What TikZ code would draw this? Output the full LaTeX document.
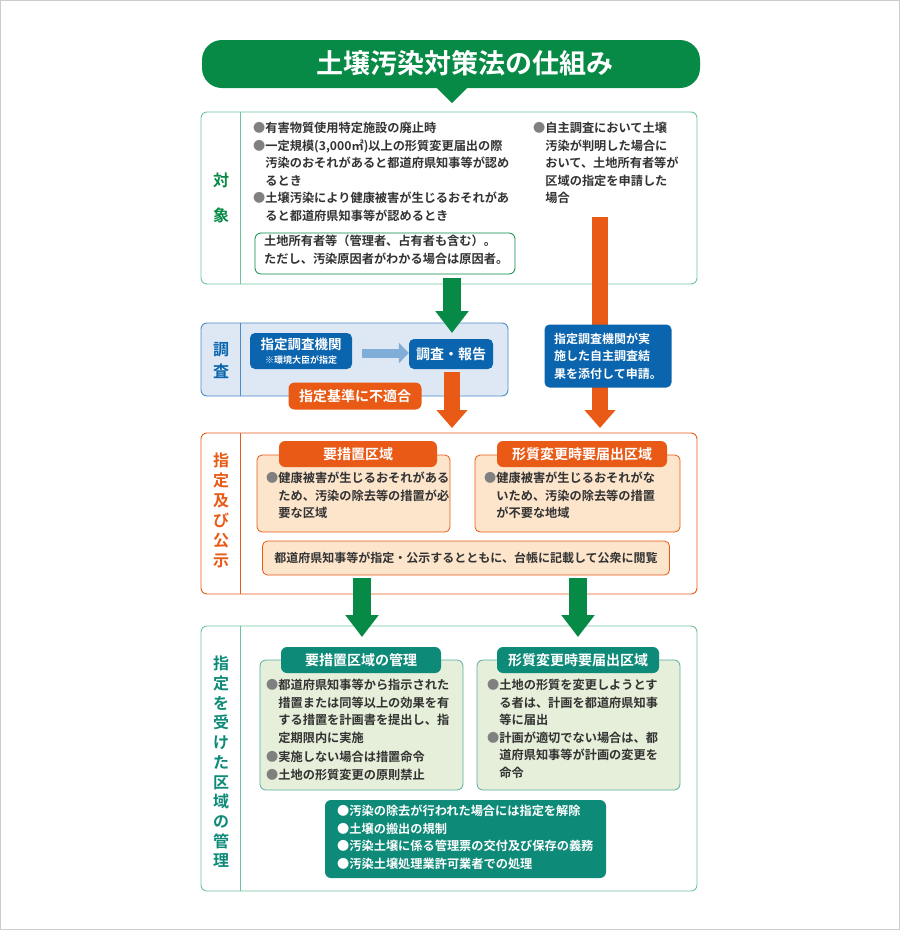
\documentclass[tikz,border=0pt]{standalone}
\usepackage{fontspec}
\setmainfont{Noto Sans CJK JP}[BoldFont={Noto Sans CJK JP Bold}]
\usetikzlibrary{arrows.meta, positioning}
\definecolor{tgreen}{HTML}{078A45}
\definecolor{lgreen}{HTML}{6CC49A}
\definecolor{tblue}{HTML}{0A64AE}
\definecolor{lblue}{HTML}{DDE8F4}
\definecolor{mblue}{HTML}{4A8CC8}
\definecolor{aorange}{HTML}{E85A16}
\definecolor{porange}{HTML}{FDE5CC}
\definecolor{tteal}{HTML}{0E8A78}
\definecolor{pgreen}{HTML}{E6EFD9}
\definecolor{txt}{HTML}{333333}
\newcommand{\bul}{{\color{gray}●}}
\newcommand{\ind}{\phantom{●}}
\tikzset{
  sect/.style = {draw, rounded corners=6pt, line width=0.9pt},
  body/.style = {anchor=north west, align=left, inner sep=0pt, text=txt,
                 font=\bfseries\fontsize{12.2}{17.5}\selectfont},
  vlabel/.style = {align=center, inner sep=0pt, font=\bfseries\fontsize{16}{20}\selectfont},
  bluebox/.style = {fill=tblue, rounded corners=5pt, text=white, align=center,
                    font=\bfseries\fontsize{12}{16}\selectfont},
  pill/.style = {rounded corners=6pt, text=white, align=center, inner sep=0pt,
                 font=\bfseries\fontsize{14}{16}\selectfont},
  garrow/.style = {line width=18pt, tgreen, -{Triangle[width=32pt,length=22pt]}},
  oarrow/.style = {line width=16pt, aorange, -{Triangle[width=30pt,length=18pt]}}
}
\begin{document}
\begin{tikzpicture}[x=1pt, y=-1pt]
  \useasboundingbox (0,0) rectangle (900,930);
  \draw[gray!40] (0.5,0.5) rectangle (899.5,929.5);
  % title
  \fill[tgreen, rounded corners=20pt] (202,40) rectangle (700,88);
  \fill[tgreen] (436,87) -- (468,87) -- (452,103) -- cycle;
  \node (title) at (465,63) [text=white, font=\bfseries\fontsize{27}{30}\selectfont] {土壌汚染対策法の仕組み};
  %
  % section 1
  \draw[sect, lgreen] (201,112) rectangle (697,284);
  \draw[lgreen, line width=0.9pt] (240,112) -- (240,284);
  \node (l1) at (221,198) [vlabel, text=tgreen, font=\bfseries\fontsize{16}{35}\selectfont] {対\\象};
  \node (t1) at (253,122) [body] {\bul 有害物質使用特定施設の廃止時\\
    \bul 一定規模(3,000㎡)以上の形質変更届出の際\\
    \ind 汚染のおそれがあると都道府県知事等が認め\\
    \ind るとき\\
    \bul 土壌汚染により健康被害が生じるおそれがあ\\
    \ind ると都道府県知事等が認めるとき};
  \node (t2) at (533,122) [body] {\bul 自主調査において土壌\\
    \ind 汚染が判明した場合に\\
    \ind おいて、土地所有者等が\\
    \ind 区域の指定を申請した\\
    \ind 場合};
  \draw[tgreen, line width=0.8pt, rounded corners=6pt, fill=white] (255,233) rectangle (515,274);
  \node (owner) at (264,235) [body] {土地所有者等（管理者、占有者も含む）。\\ただし、汚染原因者がわかる場合は原因者。};
  %
  % section 2
  \draw[sect, mblue, fill=lblue] (201,323) rectangle (508,396);
  \draw[mblue, line width=0.9pt] (240,323) -- (240,396);
  \node (l2) at (221,361) [vlabel, text=tblue, font=\bfseries\fontsize{16}{22}\selectfont] {調\\査};
  \node (agency) at (301,351) [bluebox, minimum width=102pt, minimum height=36pt, inner sep=0pt]
    {\fontsize{13.5}{15}\selectfont 指定調査機関\\[-2pt]\fontsize{9}{10}\selectfont ※環境大臣が指定};
  \node (report) at (451,354) [bluebox, minimum width=84pt, minimum height=30pt, font=\bfseries\fontsize{14}{16}\selectfont] {調査・報告};
  \draw[line width=9pt, mblue!70, -{Triangle[width=20pt,length=10pt]}] (agency.east) ++(10,2) coordinate (a1) -- (report.west |- a1);
  \node (unfit) at (355,396) [pill, fill=aorange, minimum width=133pt, minimum height=27pt] {指定基準に不適合};
  %
  % section 3
  \draw[sect, aorange] (201,433) rectangle (697,594);
  \draw[aorange, line width=0.9pt] (240,433) -- (240,594);
  \node (l3) at (221,510) [vlabel, text=aorange] {指\\定\\及\\び\\公\\示};
  \draw[aorange, fill=porange, rounded corners=5pt, line width=0.8pt] (257,455) rectangle (450,532);
  \draw[aorange, fill=porange, rounded corners=5pt, line width=0.8pt] (475,455) rectangle (680,532);
  \node (req) at (358,454) [pill, fill=aorange, minimum width=158pt, minimum height=26pt] {要措置区域};
  \node (chg) at (582,454) [pill, fill=aorange, minimum width=170pt, minimum height=26pt] {形質変更時要届出区域};
  \node (t3) at (266,472) [body] {\bul 健康被害が生じるおそれがある\\\ind ため、汚染の除去等の措置が必\\\ind 要な区域};
  \node (t4) at (484,472) [body] {\bul 健康被害が生じるおそれがな\\\ind いため、汚染の除去等の措置\\\ind が不要な地域};
  \node (pub) at (466,558) [draw=aorange, fill=porange, rounded corners=5pt, line width=0.8pt,
    minimum width=407pt, minimum height=34pt, inner sep=0pt, text=txt, font=\bfseries\fontsize{12}{14}\selectfont]
    {都道府県知事等が指定・公示するとともに、台帳に記載して公衆に閲覧};
  %
  % section 4
  \draw[sect, lgreen] (201,626) rectangle (697,891);
  \draw[lgreen, line width=0.9pt] (240,626) -- (240,891);
  \node (l4) at (221,762) [vlabel, text=tteal, font=\bfseries\fontsize{16}{19.7}\selectfont] {指\\定\\を\\受\\け\\た\\区\\域\\の\\管\\理};
  \draw[tteal!70, fill=pgreen, rounded corners=6pt, line width=0.8pt] (260,660) rectangle (463,790);
  \draw[tteal!70, fill=pgreen, rounded corners=6pt, line width=0.8pt] (477,660) rectangle (680,790);
  \node (mgmt) at (361,660) [pill, fill=tteal, minimum width=160pt, minimum height=26pt] {要措置区域の管理};
  \node (chg2) at (578,660) [pill, fill=tteal, minimum width=162pt, minimum height=26pt] {形質変更時要届出区域};
  \node (t5) at (266,679) [body] {\bul 都道府県知事等から指示された\\\ind 措置または同等以上の効果を有\\\ind する措置を計画書を提出し、指\\\ind 定期限内に実施\\[2pt]
    \bul 実施しない場合は措置命令\\\bul 土地の形質変更の原則禁止};
  \node (t6) at (487,679) [body] {\bul 土地の形質を変更しようとす\\\ind る者は、計画を都道府県知事\\\ind 等に届出\\
    \bul 計画が適切でない場合は、都\\\ind 道府県知事等が計画の変更を\\\ind 命令};
  \fill[tteal, rounded corners=6pt] (325,800) rectangle (606,878);
  \node (t7) at (337,805) [body, text=white] {●汚染の除去が行われた場合には指定を解除\\●土壌の搬出の規制\\●汚染土壌に係る管理票の交付及び保存の義務\\●汚染土壌処理業許可業者での処理};
  %
  % arrows
  \coordinate (g1s) at (452,278); \coordinate (g1e) at (452,333);
  \draw[garrow] (g1s) -- (g1e);
  \coordinate (o1s) at (452,372); \coordinate (o1e) at (452,428);
  \draw[oarrow] (o1s) -- (o1e);
  \coordinate (o2s) at (600,217); \coordinate (o2e) at (600,428);
  \draw[oarrow] (o2s) -- (o2e);
  \node (apply) at (608,356) [bluebox, minimum width=127pt, minimum height=63pt, inner sep=0pt, align=left,
    font=\bfseries\fontsize{12}{17.5}\selectfont] {指定調査機関が実\\施した自主調査結\\果を添付して申請。};
  \coordinate (g2e) at (362,637); \coordinate (g3e) at (578,637);
  \draw[garrow] (362,578) -- (g2e);
  \draw[garrow] (578,578) -- (g3e);
\end{tikzpicture}
\end{document}
